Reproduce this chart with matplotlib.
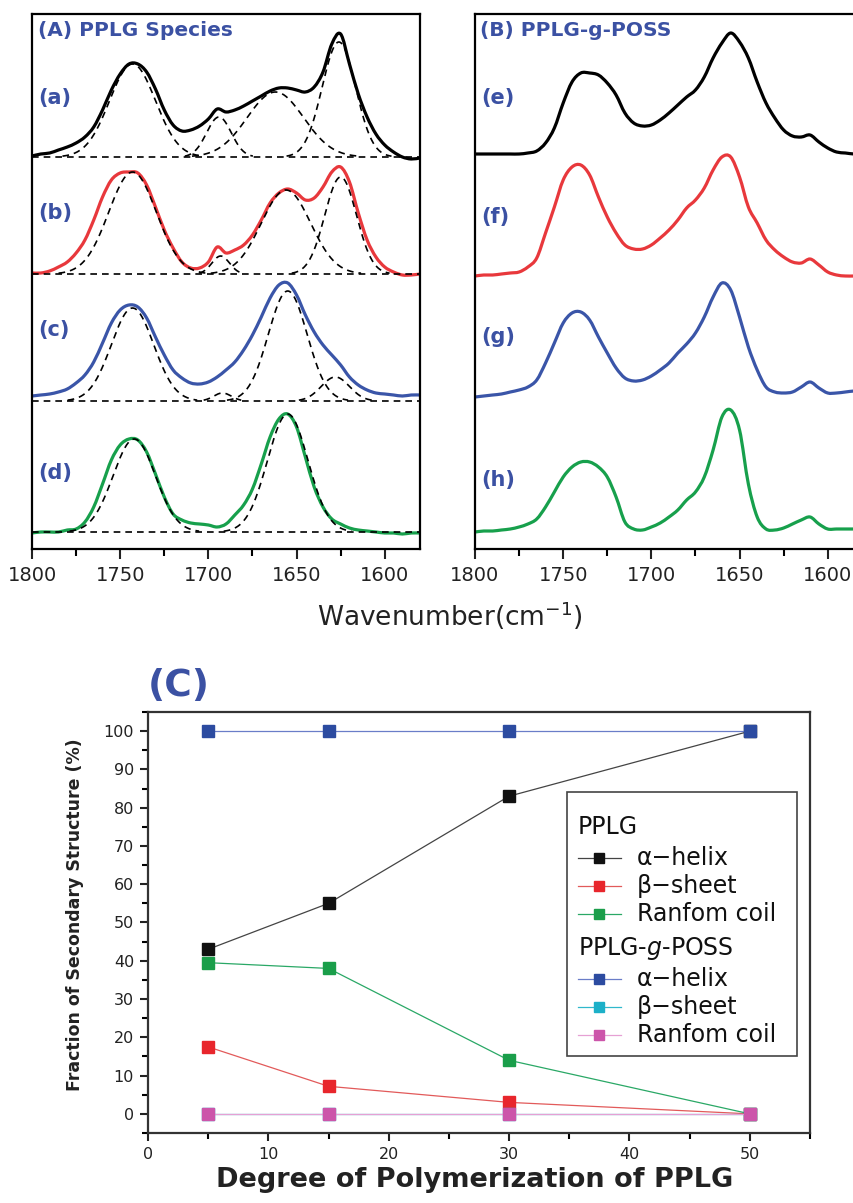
import numpy as np
import matplotlib
matplotlib.use("Agg")
import matplotlib.pyplot as plt
from matplotlib.lines import Line2D
from matplotlib.patches import Rectangle, PathPatch
from matplotlib.path import Path
from matplotlib.ticker import MultipleLocator

plt.rcParams['font.family'] = ['DejaVu Sans']

W, H = 854, 1203

# ---------------- data: FTIR spectra (heights above each trace baseline) ----------------
wavenumber = [1800, 1795, 1790, 1785, 1780, 1775, 1770, 1765, 1760, 1755, 1750, 1745,
              1740, 1735, 1730, 1725, 1720, 1715, 1710, 1705, 1700, 1695, 1690, 1685,
              1680, 1675, 1670, 1665, 1660, 1655, 1650, 1645, 1640, 1635, 1630, 1625,
              1620, 1615, 1610, 1605, 1600, 1595, 1590, 1585, 1580]

# Panel A: PPLG species
spec_a = [1, 3, 4, 7, 10, 14, 20, 30, 47, 67, 83, 93, 93, 85, 68, 47, 32, 26, 27, 31,
          38, 48, 45, 47, 51, 56, 61, 66, 69, 69, 67, 65, 70, 85, 113, 123, 93, 63, 40,
          23, 12, 5, 0, -2, -1]
spec_b = [1, 1, 3, 7, 12, 21, 34, 54, 77, 94, 101, 102, 101, 89, 67, 44, 26, 12, 6, 6,
          12, 27, 21, 24, 29, 39, 54, 71, 81, 85, 81, 74, 76, 87, 102, 107, 92, 61, 34,
          17, 7, 2, -1, -1, 0]
spec_c = [5, 6, 7, 9, 12, 18, 26, 39, 58, 78, 91, 96, 94, 83, 64, 46, 31, 23, 18, 17,
          19, 24, 31, 39, 51, 66, 84, 103, 116, 118, 106, 86, 69, 56, 46, 36, 24, 16, 11,
          8, 7, 6, 5, 6, 6]
spec_d = [-1, 0, 0, 0, 2, 3, 10, 25, 48, 72, 87, 93, 92, 80, 58, 35, 18, 12, 9, 8,
          7, 5, 8, 17, 27, 43, 68, 95, 113, 118, 105, 75, 45, 25, 13, 8, 4, 2, 1,
          0, -1, -1, -2, -1, -1]

# Panel B: PPLG-g-POSS
spec_e = [0, 0, 0, 0, 0, 0, 1, 3, 11, 26, 51, 72, 81, 81, 79, 71, 59, 41, 31, 28,
          29, 34, 41, 49, 57, 64, 77, 96, 111, 121, 112, 96, 72, 51, 36, 24, 18, 17, 19,
          12, 6, 2, 1, 0, 0]
spec_f = [0, 1, 1, 2, 3, 4, 9, 18, 43, 69, 96, 109, 111, 101, 79, 59, 43, 31, 27, 27,
          31, 38, 46, 56, 68, 76, 88, 106, 119, 119, 99, 69, 53, 36, 26, 19, 14, 13, 17,
          11, 4, 1, 0, 0, 0]
spec_g = [-1, 0, 1, 2, 4, 6, 9, 16, 33, 53, 73, 83, 84, 76, 59, 43, 28, 18, 15, 16,
          20, 26, 33, 43, 52, 63, 79, 99, 113, 106, 79, 49, 26, 9, 4, 3, 4, 9, 14,
          8, 3, 3, 4, 5, 5]
spec_h = [0, 1, 1, 2, 3, 5, 8, 13, 25, 40, 55, 65, 70, 70, 65, 55, 35, 10, 3, 2,
          5, 9, 15, 22, 32, 40, 55, 82, 115, 122, 102, 48, 15, 3, 2, 4, 8, 12, 15,
          8, 3, 3, 3, 3, 3]

# Fitted Gaussian components (centre cm-1, height, sigma)
fit_a_center = [1743, 1694, 1662, 1626]
fit_a_height = [93, 40, 65, 115]
fit_a_sigma = [13, 7, 16, 9.5]
fit_b_center = [1743, 1693, 1656, 1625]
fit_b_height = [102, 18, 84, 97]
fit_b_sigma = [13.5, 5, 14, 9]
fit_c_center = [1743, 1692, 1655, 1628]
fit_c_height = [93, 8, 110, 24]
fit_c_sigma = [12, 5, 11, 8]
fit_d_center = [1742, 1655]
fit_d_height = [93, 118]
fit_d_sigma = [12, 11.5]

labels_A = ['(a)', '(b)', '(c)', '(d)']
labels_B = ['(e)', '(f)', '(g)', '(h)']

# ---------------- data: panel C ----------------
dp = [5, 15, 30, 50]
pplg_helix = [43, 55, 83, 100]
pplg_sheet = [17.5, 7.2, 3, 0]
pplg_coil = [39.5, 38, 14, 0]
poss_helix = [100, 100, 100, 100]
poss_sheet = [0, 0, 0, 0]
poss_coil = [0, 0, 0, 0]

# ---------------- styling ----------------
BLUE_TXT = '#3b51a3'
C_BLACK, C_RED, C_BLUE, C_GREEN = '#000000', '#e8383c', '#3a55a8', '#17a04c'


def fx(x):
    return x / W


def fy(y):
    return 1 - y / H


def smooth_trace(ax, xs, ys, color, lw):
    """Draw a trace through the measured points as a smooth (Catmull-Rom) Bezier path."""
    P = np.column_stack([np.asarray(xs, float), np.asarray(ys, float)])
    Pe = np.vstack([P[0], P, P[-1]])
    verts = [tuple(P[0])]
    codes = [Path.MOVETO]
    for i in range(1, len(Pe) - 2):
        p0, p1, p2, p3 = Pe[i - 1], Pe[i], Pe[i + 1], Pe[i + 2]
        c1 = p1 + (p2 - p0) / 6.0
        c2 = p2 - (p3 - p1) / 6.0
        verts += [tuple(c1), tuple(c2), tuple(p2)]
        codes += [Path.CURVE4] * 3
    patch = PathPatch(Path(verts, codes), facecolor='none', edgecolor=color, lw=lw,
                      capstyle='round', joinstyle='round', transform=ax.transData,
                      zorder=2)
    ax.add_patch(patch)


fig = plt.figure(figsize=(W / 100, H / 100), dpi=100)

axA = fig.add_axes([fx(32), fy(549), 388 / W, 535 / H])
axB = fig.add_axes([fx(475), fy(549), 388 / W, 535 / H])

offA = [392, 275, 148, 17]
offB = [395, 273, 153, 17]
colors4 = [C_BLACK, C_RED, C_BLUE, C_GREEN]
fine = np.linspace(1800, 1580, 600)

fits = [(fit_a_center, fit_a_height, fit_a_sigma),
        (fit_b_center, fit_b_height, fit_b_sigma),
        (fit_c_center, fit_c_height, fit_c_sigma),
        (fit_d_center, fit_d_height, fit_d_sigma)]

for spec, off, col, (cs, hs, ss) in zip([spec_a, spec_b, spec_c, spec_d], offA, colors4, fits):
    smooth_trace(axA, wavenumber, np.array(spec) + off, col, 2.3)
    axA.axhline(off, color='k', lw=1.2, ls=(0, (4, 3)), zorder=3)
    for c, h, s in zip(cs, hs, ss):
        g = h * np.exp(-0.5 * ((fine - c) / s) ** 2)
        m = g > 0.8
        yy = np.where(m, g + off, np.nan)
        axA.plot(fine, yy, color='k', lw=1.2, ls=(0, (4, 3)), zorder=3)

for spec, off, col in zip([spec_e, spec_f, spec_g, spec_h], offB, colors4):
    smooth_trace(axB, wavenumber, np.array(spec) + off, col, 2.3)

for ax in (axA, axB):
    ax.set_xlim(1800, 1580)
    ax.set_ylim(0, 535)
    ax.set_yticks([])
    ax.xaxis.set_major_locator(MultipleLocator(50))
    ax.xaxis.set_minor_locator(MultipleLocator(25))
    ax.tick_params(axis='x', which='major', direction='out', length=7, width=1.5,
                   labelsize=14, pad=5, colors='#222222')
    ax.tick_params(axis='x', which='minor', direction='out', length=5, width=1.5)
    for sp in ax.spines.values():
        sp.set_linewidth(1.6)

# panel titles and trace labels
fig.text(fx(38), fy(30), '(A) PPLG Species', color=BLUE_TXT, fontsize=14.5,
         fontweight='bold', va='center', ha='left')
fig.text(fx(480), fy(30), '(B) PPLG-g-POSS', color=BLUE_TXT, fontsize=14.5,
         fontweight='bold', va='center', ha='left')
for lab, y in zip(labels_A, [98, 213, 330, 473]):
    fig.text(fx(38), fy(y), lab, color=BLUE_TXT, fontsize=15, fontweight='bold',
             va='center', ha='left')
for lab, y in zip(labels_B, [98, 217, 337, 480]):
    fig.text(fx(481), fy(y), lab, color=BLUE_TXT, fontsize=15, fontweight='bold',
             va='center', ha='left')

fig.text(fx(450), fy(616), 'Wavenumber(cm$^{-1}$)', fontsize=19, ha='center',
         va='center', color='#222222')

# ---------------- panel C ----------------
axC = fig.add_axes([fx(148), fy(1133), 662 / W, 421 / H])
series = [
    (pplg_helix, '#444444', '#111111'),
    (pplg_sheet, '#e25a5a', '#e8262c'),
    (pplg_coil, '#2aa866', '#1a9e4a'),
    (poss_helix, '#6a7dc8', '#2c4ba0'),
    (poss_sheet, '#30b8cc', '#1cb0c8'),
    (poss_coil, '#e6a0d4', '#cc55aa'),
]
for ys, lc, mc in series:
    axC.plot(dp, ys, color=lc, lw=0.9, marker='s', markersize=8.5,
             markerfacecolor=mc, markeredgecolor=mc, zorder=3)

axC.set_xlim(0, 55)
axC.set_ylim(-5, 105)
axC.xaxis.set_major_locator(MultipleLocator(10))
axC.xaxis.set_minor_locator(MultipleLocator(5))
axC.yaxis.set_major_locator(MultipleLocator(10))
axC.yaxis.set_minor_locator(MultipleLocator(5))
axC.set_yticks(range(0, 101, 10))
axC.tick_params(which='major', direction='out', length=6, width=1.5, labelsize=11.5,
                colors='#222222', pad=4)
axC.tick_params(which='minor', direction='out', length=4, width=1.5)
for sp in axC.spines.values():
    sp.set_linewidth(1.6)
    sp.set_color('#333333')

fig.text(fx(75), fy(915), 'Fraction of Secondary Structure (%)', rotation=90,
         fontsize=12.5, fontweight='bold', ha='center', va='center', color='#222222')
fig.text(fx(475), fy(1180), 'Degree of Polymerization of PPLG', fontsize=19.5,
         fontweight='bold', ha='center', va='center', color='#222222')
fig.text(fx(148), fy(686), '(C)', fontsize=27, fontweight='bold', color=BLUE_TXT,
         ha='left', va='center')

# legend (manual, in figure pixel coordinates)
fig.add_artist(Rectangle((fx(567), fy(1056)), 230 / W, 264 / H, transform=fig.transFigure,
                         facecolor='white', edgecolor='#444444', lw=1.2, zorder=5))
leg_rows = [
    ('PPLG', None, None, 827),
    ('α−helix', series[0][1], series[0][2], 858),
    ('β−sheet', series[1][1], series[1][2], 886),
    ('Ranfom coil', series[2][1], series[2][2], 914),
    ('PPLG-$g$-POSS', None, None, 948),
    ('α−helix', series[3][1], series[3][2], 979),
    ('β−sheet', series[4][1], series[4][2], 1007),
    ('Ranfom coil', series[5][1], series[5][2], 1035),
]
for text, lc, mc, y in leg_rows:
    if lc is None:
        fig.text(fx(578), fy(y), text, fontsize=17, ha='left', va='center',
                 color='#111111', zorder=6)
    else:
        fig.add_artist(Line2D([fx(578), fx(621)], [fy(y), fy(y)], color=lc, lw=0.9,
                              transform=fig.transFigure, zorder=6))
        fig.add_artist(Line2D([fx(599.5)], [fy(y)], marker='s', markersize=6.5,
                              color=mc, transform=fig.transFigure, zorder=7))
        fig.text(fx(637), fy(y), text, fontsize=17, ha='left', va='center',
                 color='#111111', zorder=6)

fig.savefig('out.png', dpi=100)
